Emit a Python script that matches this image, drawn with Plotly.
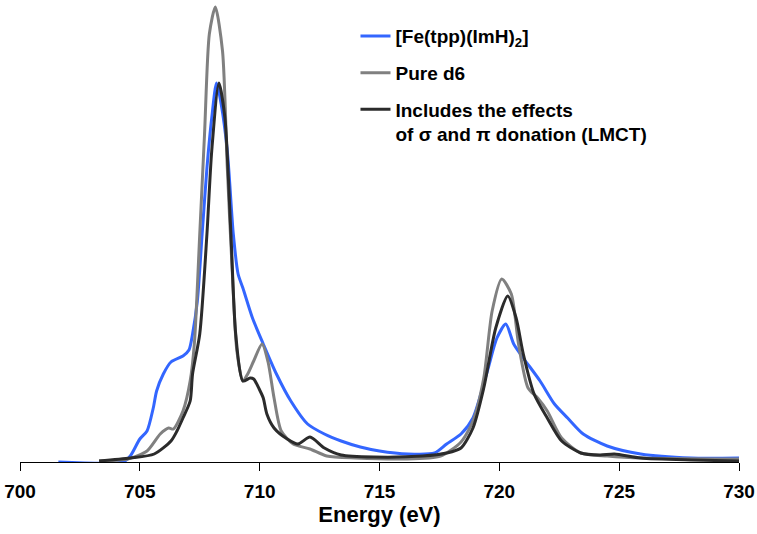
import plotly.graph_objects as go

# [Fe(tpp)(ImH)2] experimental spectrum
fe_energy = [701.6, 704.3, 704.6, 705.0, 705.3, 705.56, 705.7, 705.98, 706.3, 706.8, 707.05, 707.2,
             707.4, 707.6, 707.8, 708.0, 708.2, 708.4, 708.65, 708.9, 709.1, 709.3, 709.7, 710.15,
             710.7, 711.3, 712.0, 712.7, 713.4, 714.2, 715.0, 716.2, 717.3, 717.8, 718.4, 718.9,
             719.5, 719.9, 720.27, 720.6, 721.0, 721.7, 722.3, 722.85, 723.5, 724.5, 725.9, 728.0, 730.0]
fe_intensity = [0, 0, 6, 23, 31, 54, 71, 88, 100, 106, 112, 128,
                161, 228, 294, 344, 379, 357, 311, 228, 188, 174, 144, 118,
                88, 61, 38, 28, 21, 15, 11, 8, 9, 18, 28, 44,
                91, 124, 138, 118, 104, 81, 58, 44, 28, 16, 8, 4, 4]

# Pure d6 simulation
d6_energy = [703.3, 704.5, 705.3, 705.85, 706.2, 706.4, 706.8, 707.1, 707.28, 707.5, 707.7, 707.9,
             708.15, 708.45, 708.65, 708.85, 709.05, 709.3, 709.5, 709.75, 710.1, 710.35, 710.6,
             710.9, 711.4, 712.1, 712.8, 714.0, 716.0, 717.55, 718.4, 718.9, 719.35, 719.7, 720.1,
             720.5, 720.8, 721.2, 721.6, 722.0, 722.6, 723.4, 724.5, 726.0, 730.0]
d6_intensity = [1, 3, 11, 28, 34, 33, 51, 81, 120, 228, 328, 428,
                455, 411, 294, 194, 111, 81, 88, 101, 118, 100, 64,
                31, 18, 13, 6, 4, 3, 6, 20, 41, 84, 151, 183,
                168, 118, 74, 64, 51, 24, 9, 6, 4, 3]

# Simulation including sigma and pi donation (LMCT)
lmct_energy = [703.3, 704.6, 705.6, 706.3, 706.55, 706.8, 707.1, 707.2, 707.5, 707.8, 708.0, 708.3,
               708.55, 708.8, 709.0, 709.3, 709.6, 709.75, 710.0, 710.15, 710.3, 710.6, 711.15, 711.6,
               712.1, 712.7, 713.4, 714.75, 716.8, 717.8, 718.4, 718.9, 719.35, 719.85, 720.35, 720.7,
               721.0, 721.45, 722.0, 722.6, 723.4, 724.2, 724.8, 725.9, 728.0, 730.0]
lmct_intensity = [1, 4, 8, 21, 31, 44, 61, 88, 128, 228, 311, 379,
                  344, 228, 128, 81, 84, 83, 72, 64, 48, 34, 23, 18,
                  25, 14, 7, 5, 6, 9, 14, 34, 74, 134, 166, 144,
                  108, 68, 44, 21, 9, 7, 8, 4, 2, 1]

series_names = ["[Fe(tpp)(ImH)<sub>2</sub>]", "Pure d6",
                "Includes the effects<br>of \u03c3 and \u03c0 donation (LMCT)"]
x_ticks = [700, 705, 710, 715, 720, 725, 730]

FONT = "Liberation Sans, Arial, sans-serif"

fig = go.Figure()
for name, xs, ys, color, grp in [
    (series_names[0], fe_energy, fe_intensity, "#3366FF", "a"),
    (series_names[1], d6_energy, d6_intensity, "#808080", "b"),
    (series_names[2], lmct_energy, lmct_intensity, "#2B2B2B", "c"),
]:
    fig.add_trace(go.Scatter(x=xs, y=ys, mode="lines", name=name, legendgroup=grp,
                             cliponaxis=False,
                             line=dict(color=color, width=3, shape="spline", smoothing=0.7)))

fig.update_layout(
    width=757, height=534,
    margin=dict(l=20, r=18, t=0, b=72),
    plot_bgcolor="white", paper_bgcolor="white",
    font=dict(family=FONT, color="black"),
    legend=dict(x=0.4666, y=0.963, xanchor="left", yanchor="top",
                font=dict(family=FONT, size=19, color="black", weight="bold"),
                tracegroupgap=9, valign="top", bgcolor="rgba(0,0,0,0)"),
    xaxis=dict(range=[700, 730], tickvals=x_ticks, ticktext=[str(t) for t in x_ticks],
               ticks="outside", ticklen=8, tickwidth=1, tickcolor="black",
               showline=True, linecolor="black", linewidth=1, showgrid=False, zeroline=False,
               ticklabelstandoff=4, ticklabeloverflow="allow",
               tickfont=dict(family=FONT, size=19, color="black", weight="bold"),
               title=dict(text="Energy (eV)", standoff=2,
                          font=dict(family=FONT, size=22, color="black", weight="bold"))),
    yaxis=dict(range=[0, 462], visible=False, showgrid=False, zeroline=False),
)

fig.write_html("out.html", config={"displayModeBar": False},
               post_script="document.body.style.margin='0';document.body.style.overflow='hidden';")
